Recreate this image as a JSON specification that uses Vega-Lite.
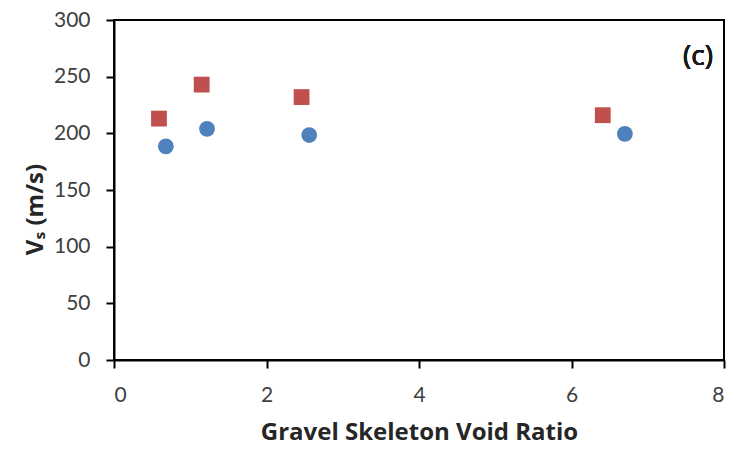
{
  "$schema": "https://vega.github.io/schema/vega-lite/v6.json",
  "width": 610,
  "height": 340,
  "autosize": "none",
  "padding": {"left": 114, "top": 20, "right": 3, "bottom": 90},
  "background": "white",
  "config": {
    "view": {"stroke": "black", "strokeWidth": 2},
    "font": "Lato",
    "axis": {
      "grid": false,
      "domainColor": "black",
      "domainWidth": 2,
      "tickColor": "black",
      "tickWidth": 2,
      "tickSize": 8,
      "labelFont": "Lato",
      "labelFontSize": 21,
      "labelColor": "#404040",
      "titleFont": "Open Sans",
      "titleFontWeight": "bold",
      "titleColor": "#262626"
    }
  },
  "data": {
    "values": [
      {"ratio": 0.59, "vs": 213, "series": "A"},
      {"ratio": 1.15, "vs": 243, "series": "A"},
      {"ratio": 2.46, "vs": 232, "series": "A"},
      {"ratio": 6.41, "vs": 216, "series": "A"},
      {"ratio": 0.68, "vs": 188.5, "series": "B"},
      {"ratio": 1.22, "vs": 204, "series": "B"},
      {"ratio": 2.56, "vs": 198.5, "series": "B"},
      {"ratio": 6.70, "vs": 199.5, "series": "B"}
    ]
  },
  "layer": [
    {
      "mark": {"type": "point", "filled": true, "opacity": 1, "size": 250},
      "encoding": {
        "x": {
          "field": "ratio", "type": "quantitative",
          "scale": {"domain": [0, 8], "nice": false, "zero": false},
          "axis": {"values": [0, 2, 4, 6, 8], "format": "d", "labelPadding": 16, "title": "Gravel Skeleton Void Ratio", "titleFontSize": 24, "titlePadding": 15}
        },
        "y": {
          "field": "vs", "type": "quantitative",
          "scale": {"domain": [0, 300], "nice": false},
          "axis": {"values": [0, 50, 100, 150, 200, 250, 300], "labelPadding": 16, "title": "Vₛ (m/s)", "titleFontSize": 24, "titlePadding": 6, "titleY": 189}
        },
        "shape": {
          "field": "series", "type": "nominal",
          "scale": {"domain": ["A", "B"], "range": ["square", "circle"]},
          "legend": null
        },
        "color": {
          "field": "series", "type": "nominal",
          "scale": {"domain": ["A", "B"], "range": ["#C0504D", "#4F81BD"]},
          "legend": null
        }
      }
    },
    {
      "mark": {"type": "text", "fontSize": 28, "font": "Open Sans", "fontWeight": 400, "color": "#1a1a1a", "align": "center", "baseline": "middle"},
      "encoding": {
        "x": {"datum": 7.66, "type": "quantitative"},
        "y": {"datum": 267, "type": "quantitative"},
        "text": {"value": "(c)"}
      }
    }
  ]
}
